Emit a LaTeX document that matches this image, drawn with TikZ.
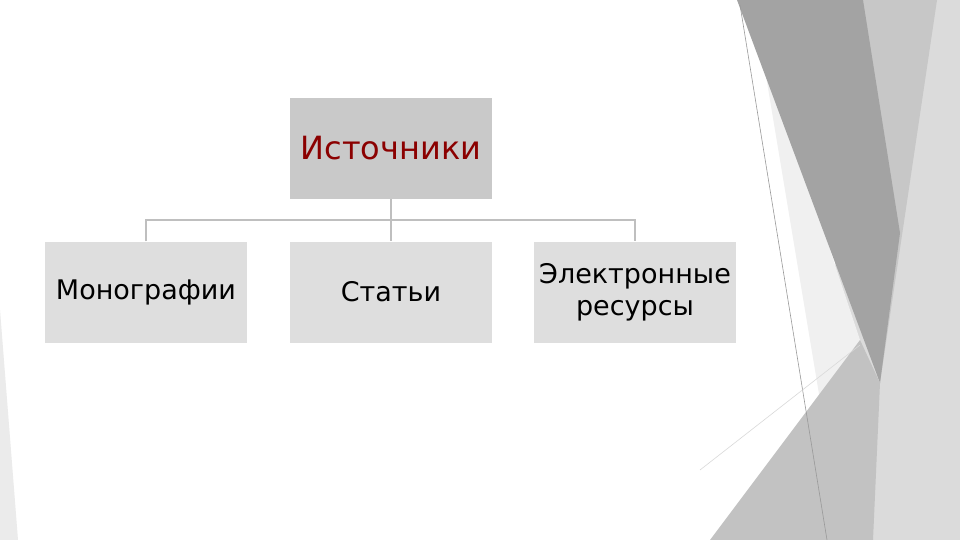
\documentclass[tikz,border=0pt]{standalone}
\usepackage{fontspec}
\setmainfont{DejaVu Sans}
\begin{document}
\begin{tikzpicture}[x=1pt,y=-1pt,
  box/.style={draw=none,fill=#1,minimum width=202pt,minimum height=101pt,inner sep=0pt,align=center,font=\fontsize{27}{32}\selectfont},
  conn/.style={draw=black!25,line width=2pt}]
\useasboundingbox (0,0) rectangle (960,540);
\fill[white] (0,0) rectangle (960,540);
% background shapes
\fill[black!14] (850,0) -- (960,0) -- (960,540) -- (820,540) -- cycle;
\fill[black!22] (863,0) -- (937,0) -- (880,383) -- cycle;
\fill[black!6] (760,40) -- (860,340) -- (820,400) -- cycle;
\fill[black!36] (737,0) -- (863,0) -- (900,233) -- (880,383) -- cycle;
\fill[black!24] (860,340) -- (880,383) -- (873,540) -- (710,540) -- cycle;
\fill[black!8] (0,310) -- (18,540) -- (0,540) -- cycle;
\draw[black!40,line width=0.6pt] (740,5) -- (827,540);
\draw[black!15,line width=0.6pt] (860,345) -- (700,470);
% boxes
\node[box=black!21] (top) at (391,148.5) {\fontsize{32}{36}\selectfont\color[HTML]{8B0000}Источники};
\node[box=black!13] (a) at (146,292) {Монографии};
\node[box=black!13] (b) at (391,292) {Статьи};
\node[box=black!13] (c) at (635,292) {Электронные\\ресурсы};
\coordinate (j) at (391,220);
\draw[conn] (top.south) -- (j);
\draw[conn] (a.north) |- (j) -| (c.north);
\draw[conn] (j) -- (b.north);
\end{tikzpicture}
\end{document}
